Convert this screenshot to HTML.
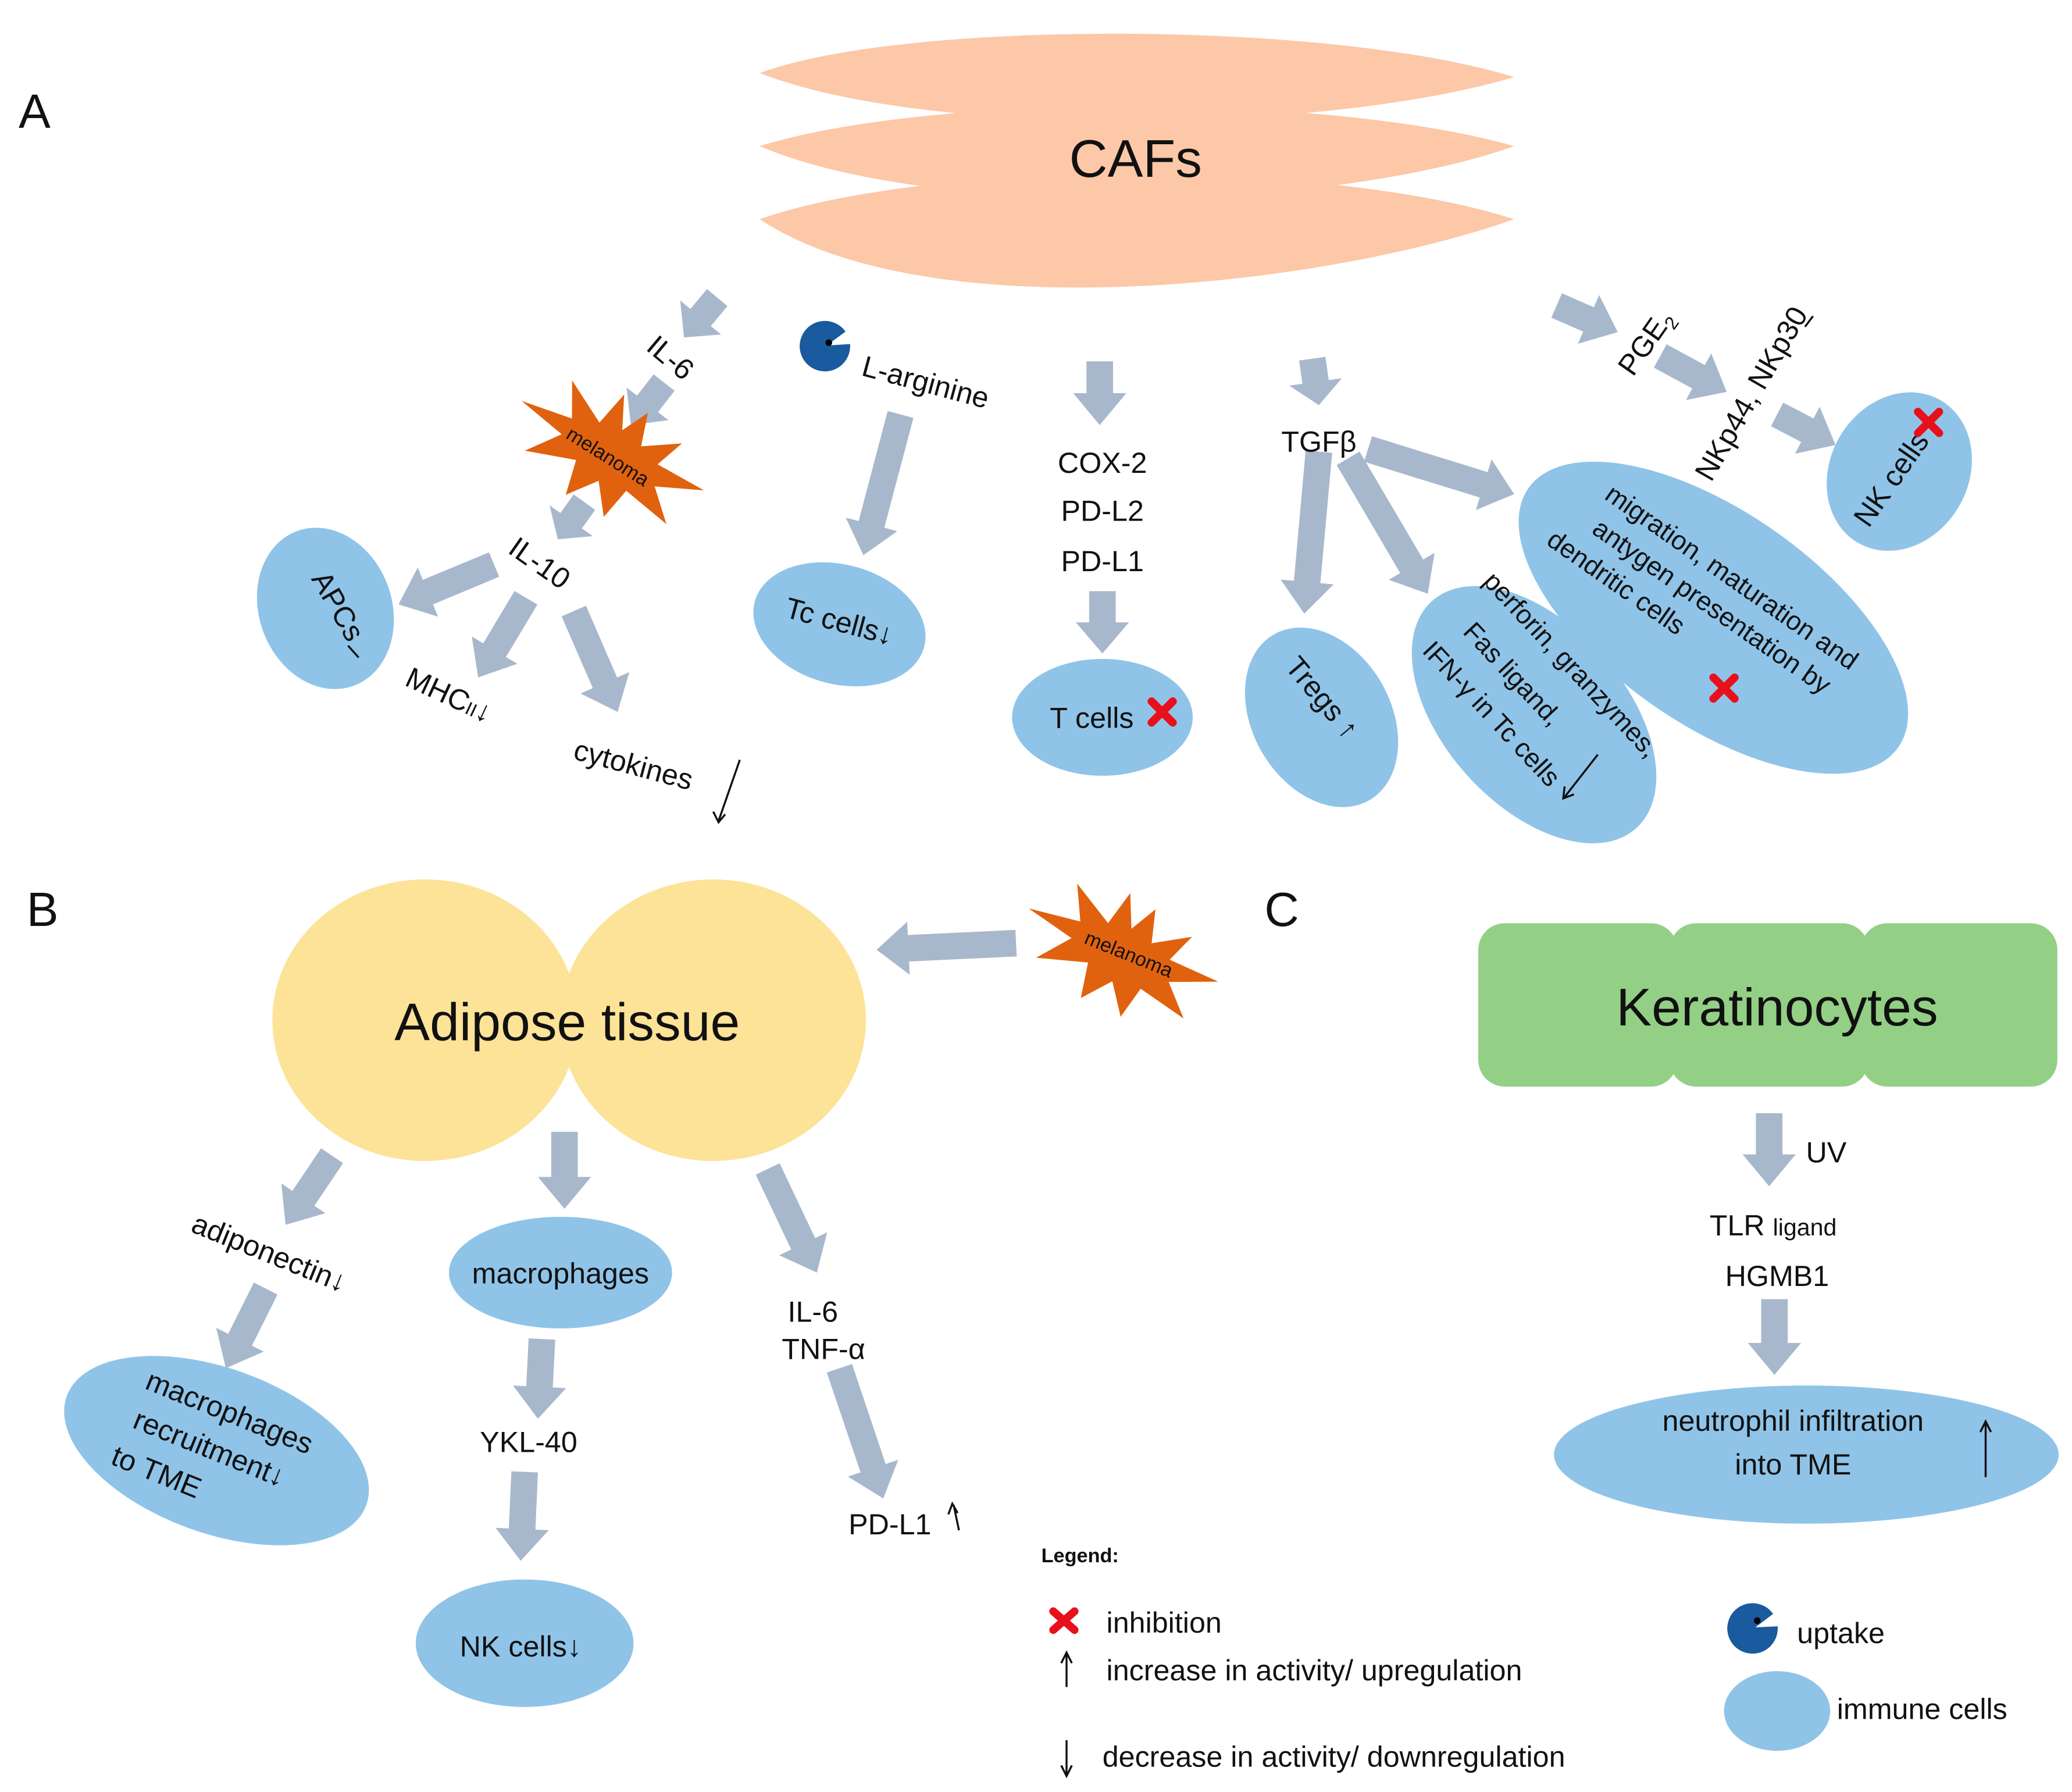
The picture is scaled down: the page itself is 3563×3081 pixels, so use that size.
<!DOCTYPE html>
<html><head><meta charset="utf-8"><style>
html,body{margin:0;padding:0;background:#fff;}
svg{display:block;}
text{font-family:"Liberation Sans",sans-serif;fill:#111;}
</style></head><body>
<svg id="s" width="3563" height="3081" viewBox="0 0 1560 1349" xmlns="http://www.w3.org/2000/svg">
<rect width="1560" height="1349" fill="#fff"/>
<g fill="#fcc8a8">
<path d="M572,165 C700,120 1000,120 1140,165 C1000,215 700,250 572,165 Z"/>
<path d="M572,110 C700,70 1000,70 1140,110 C1000,160 700,165 572,110 Z"/>
<path d="M572,55 C680,15 1000,15 1140,58 C1000,100 700,105 572,55 Z"/>
</g>
<text x="855" y="133" font-size="40" text-anchor="middle">CAFs</text>
<text x="14" y="96" font-size="36">A</text>
<text x="20" y="697" font-size="36">B</text>
<text x="952" y="697" font-size="36">C</text>

<g id="arrows" fill="#a8b8cc"></g>

<g fill="#8fc4e8">
<ellipse cx="245" cy="458" rx="50" ry="62" transform="rotate(-20 245 458)"/>
<ellipse cx="632" cy="470" rx="66" ry="45" transform="rotate(15 632 470)"/>
<ellipse cx="830" cy="540" rx="68" ry="44"/>
<ellipse cx="995" cy="540" rx="52" ry="72" transform="rotate(-30 995 540)"/>
<ellipse cx="1155" cy="538" rx="115" ry="68" transform="rotate(48 1155 538)"/>
<ellipse cx="1290" cy="465" rx="170" ry="80" transform="rotate(35 1290 465)"/>
<ellipse cx="1430" cy="355" rx="52" ry="62" transform="rotate(30 1430 355)"/>
<ellipse cx="422" cy="958" rx="84" ry="42"/>
<ellipse cx="163" cy="1092" rx="120" ry="62" transform="rotate(20 163 1092)"/>
<ellipse cx="395" cy="1237" rx="82" ry="48"/>
<ellipse cx="1360" cy="1095" rx="190" ry="52"/>
<ellipse cx="1338" cy="1288" rx="40" ry="30"/>
</g>

<ellipse cx="320" cy="768" rx="115" ry="106" fill="#fde398"/>
<ellipse cx="537" cy="768" rx="115" ry="106" fill="#fde398"/>
<text x="427" y="783" font-size="40" text-anchor="middle">Adipose tissue</text>

<g fill="#93d086">
<rect x="1113" y="695" width="150" height="123" rx="20"/>
<rect x="1257" y="695" width="150" height="123" rx="20"/>
<rect x="1401" y="695" width="148" height="123" rx="20"/>
</g>
<text x="1338" y="772" font-size="40" text-anchor="middle">Keratinocytes</text>

<g fill="#e0620f">
<polygon points="0,-20 12,-40 18,-15 45,-30 35,-8 75,-5 40,8 60,30 22,20 15,45 0,22 -18,42 -22,15 -60,25 -40,2 -78,-8 -38,-12 -50,-38 -18,-18 -10,-45" transform="translate(460,342) rotate(25)"/>
<polygon points="0,-20 12,-40 18,-15 45,-30 35,-8 75,-5 40,8 60,30 22,20 15,45 0,22 -18,42 -22,15 -60,25 -40,2 -78,-8 -38,-12 -50,-38 -18,-18 -10,-45" transform="translate(845,718) rotate(20)"/>
</g>
<text transform="translate(455,348) rotate(32)" font-size="15" text-anchor="middle">melanoma</text>
<text transform="translate(848,723) rotate(22)" font-size="15" text-anchor="middle">melanoma</text>

<g font-size="22">
<text transform="translate(500,275) rotate(40)" text-anchor="middle">IL-6</text>
<text transform="translate(402,430) rotate(35)" text-anchor="middle">IL-10</text>
<text transform="translate(335,530) rotate(25)" text-anchor="middle">MHC<tspan font-size="14">II</tspan>↓</text>
<text transform="translate(475,583) rotate(15)" text-anchor="middle">cytokines</text>
<text transform="translate(695,295) rotate(15)" text-anchor="middle">L-arginine</text>
<text x="830" y="356" text-anchor="middle">COX-2</text>
<text x="830" y="392" text-anchor="middle">PD-L2</text>
<text x="830" y="430" text-anchor="middle">PD-L1</text>
<text x="993" y="340" text-anchor="middle">TGFβ</text>
<text transform="translate(1245,262) rotate(-55)" text-anchor="middle">PGE<tspan font-size="14" dy="5">2</tspan></text>
<text transform="translate(1325,300) rotate(-60)" text-anchor="middle">NKp44, NKp30</text>
<text transform="translate(248,460) rotate(60)" text-anchor="middle">APCs</text>
<text transform="translate(630,475) rotate(15)" text-anchor="middle">Tc cells↓</text>
<text x="822" y="548" text-anchor="middle">T cells</text>
<text transform="translate(990,530) rotate(50)" text-anchor="middle">Tregs ↑</text>
<text transform="translate(1430,365) rotate(-55)" text-anchor="middle">NK cells</text>
</g>
<g font-size="20" text-anchor="middle">
<text transform="translate(1178,505) rotate(47)">perforin, granzymes,</text>
<text transform="translate(1134,512) rotate(47)">Fas ligand,</text>
<text transform="translate(1118,542) rotate(47)">IFN-γ in Tc cells</text>
<text transform="translate(1300,440) rotate(35)">migration, maturation and</text>
<text transform="translate(1285,462) rotate(35)">antygen presentation by</text>
<text transform="translate(1213,444) rotate(35)">dendritic cells</text>
</g>
<g stroke="#111" stroke-width="1.5" fill="none">
<line x1="557" y1="572" x2="541" y2="618"/><path d="M537,611 L541,619 L546,613"/>
<line x1="1203" y1="568" x2="1178" y2="600"/><path d="M1178,592 L1177,601 L1185,598"/>
<line x1="1495" y1="1072" x2="1495" y2="1112"/><path d="M1491,1078 L1495,1070 L1499,1078"/>
<line x1="718" y1="1133" x2="722" y2="1152"/><path d="M714,1140 L717,1132 L721,1139"/>
<line x1="1365" y1="238" x2="1359" y2="246"/>
<line x1="262" y1="486" x2="270" y2="495"/>
<line x1="803" y1="1244" x2="803" y2="1270"/><path d="M799,1252 L803,1244 L807,1252"/>
<line x1="803" y1="1310" x2="803" y2="1337"/><path d="M799,1329 L803,1337 L807,1329"/>
</g>
<g stroke="#e8101a" stroke-width="6" stroke-linecap="round">
<path d="M867,528 L883,544 M883,528 L867,544"/>
<path d="M1290,510 L1306,526 M1306,510 L1290,526"/>
<path d="M1444,310 L1460,326 M1460,310 L1444,326"/>
<path d="M793,1213 L809,1227 M809,1213 L793,1227"/>
</g>
<path d="M640,265 A19,19 0 1 1 640,255 L623,260 Z" fill="#1a5a9e" transform="rotate(-20 623 262)"/>
<path d="M1338,1230 A19,19 0 1 1 1338,1220 L1322,1225 Z" fill="#1a5a9e" transform="rotate(-20 1322 1226)"/>
<circle cx="624" cy="258" r="2.5" fill="#000"/>
<circle cx="1323" cy="1220" r="2.5" fill="#000"/>

<g font-size="22">
<text transform="translate(200,950) rotate(22)" text-anchor="middle">adiponectin↓</text>
<text x="422" y="966" text-anchor="middle">macrophages</text>
<text transform="translate(170,1070) rotate(22)" text-anchor="middle">macrophages</text>
<text transform="translate(155,1097) rotate(22)" text-anchor="middle">recruitment↓</text>
<text transform="translate(115,1115) rotate(22)" text-anchor="middle">to TME</text>
<text x="398" y="1093" text-anchor="middle">YKL-40</text>
<text x="392" y="1247" text-anchor="middle">NK cells↓</text>
<text x="612" y="995" text-anchor="middle">IL-6</text>
<text x="620" y="1023" text-anchor="middle">TNF-α</text>
<text x="670" y="1155" text-anchor="middle">PD-L1</text>
<text x="1375" y="875" text-anchor="middle">UV</text>
<text x="1335" y="930" text-anchor="middle">TLR <tspan font-size="18">ligand</tspan></text>
<text x="1338" y="968" text-anchor="middle">HGMB1</text>
<text x="1350" y="1077" text-anchor="middle">neutrophil infiltration</text>
<text x="1350" y="1110" text-anchor="middle">into TME</text>
</g>
<text x="784" y="1176" font-size="15" font-weight="bold">Legend:</text>
<g font-size="22">
<text x="833" y="1229">inhibition</text>
<text x="833" y="1265">increase in activity/ upregulation</text>
<text x="830" y="1330">decrease in activity/ downregulation</text>
<text x="1353" y="1237">uptake</text>
<text x="1383" y="1294">immune cells</text>
</g>
</svg>
<script>
var A=[[540,224,515,254],[500,288,475,320],[440,378,420,406],[372,425,300,455],[396,450,360,510],[432,460,465,536],[678,312,650,418],[828,272,828,320],[830,445,830,492],[988,270,993,305],[993,340,982,462],[1015,345,1075,447],[1030,338,1140,372],[1172,230,1218,250],[1250,268,1300,295],[1338,312,1382,335],[765,710,660,715],[250,870,215,922],[200,970,170,1030],[425,852,425,910],[408,1008,405,1068],[395,1108,392,1175],[578,880,615,958],[632,1030,665,1128],[1332,838,1332,893],[1336,978,1336,1035]];
var g=document.getElementById('arrows'),ns='http://www.w3.org/2000/svg';
A.forEach(function(a){var dx=a[2]-a[0],dy=a[3]-a[1],L=Math.hypot(dx,dy),ux=dx/L,uy=dy/L,px=-uy,py=ux,w=10,h=20,hl=Math.min(24,L*0.5);
var bx=a[2]-ux*hl,by=a[3]-uy*hl;
var p=[[a[0]+px*w,a[1]+py*w],[bx+px*w,by+py*w],[bx+px*h,by+py*h],[a[2],a[3]],[bx-px*h,by-py*h],[bx-px*w,by-py*w],[a[0]-px*w,a[1]-py*w]];
var e=document.createElementNS(ns,'polygon');e.setAttribute('points',p.map(function(q){return q[0].toFixed(1)+','+q[1].toFixed(1)}).join(' '));g.appendChild(e);});
</script>
</body></html>
